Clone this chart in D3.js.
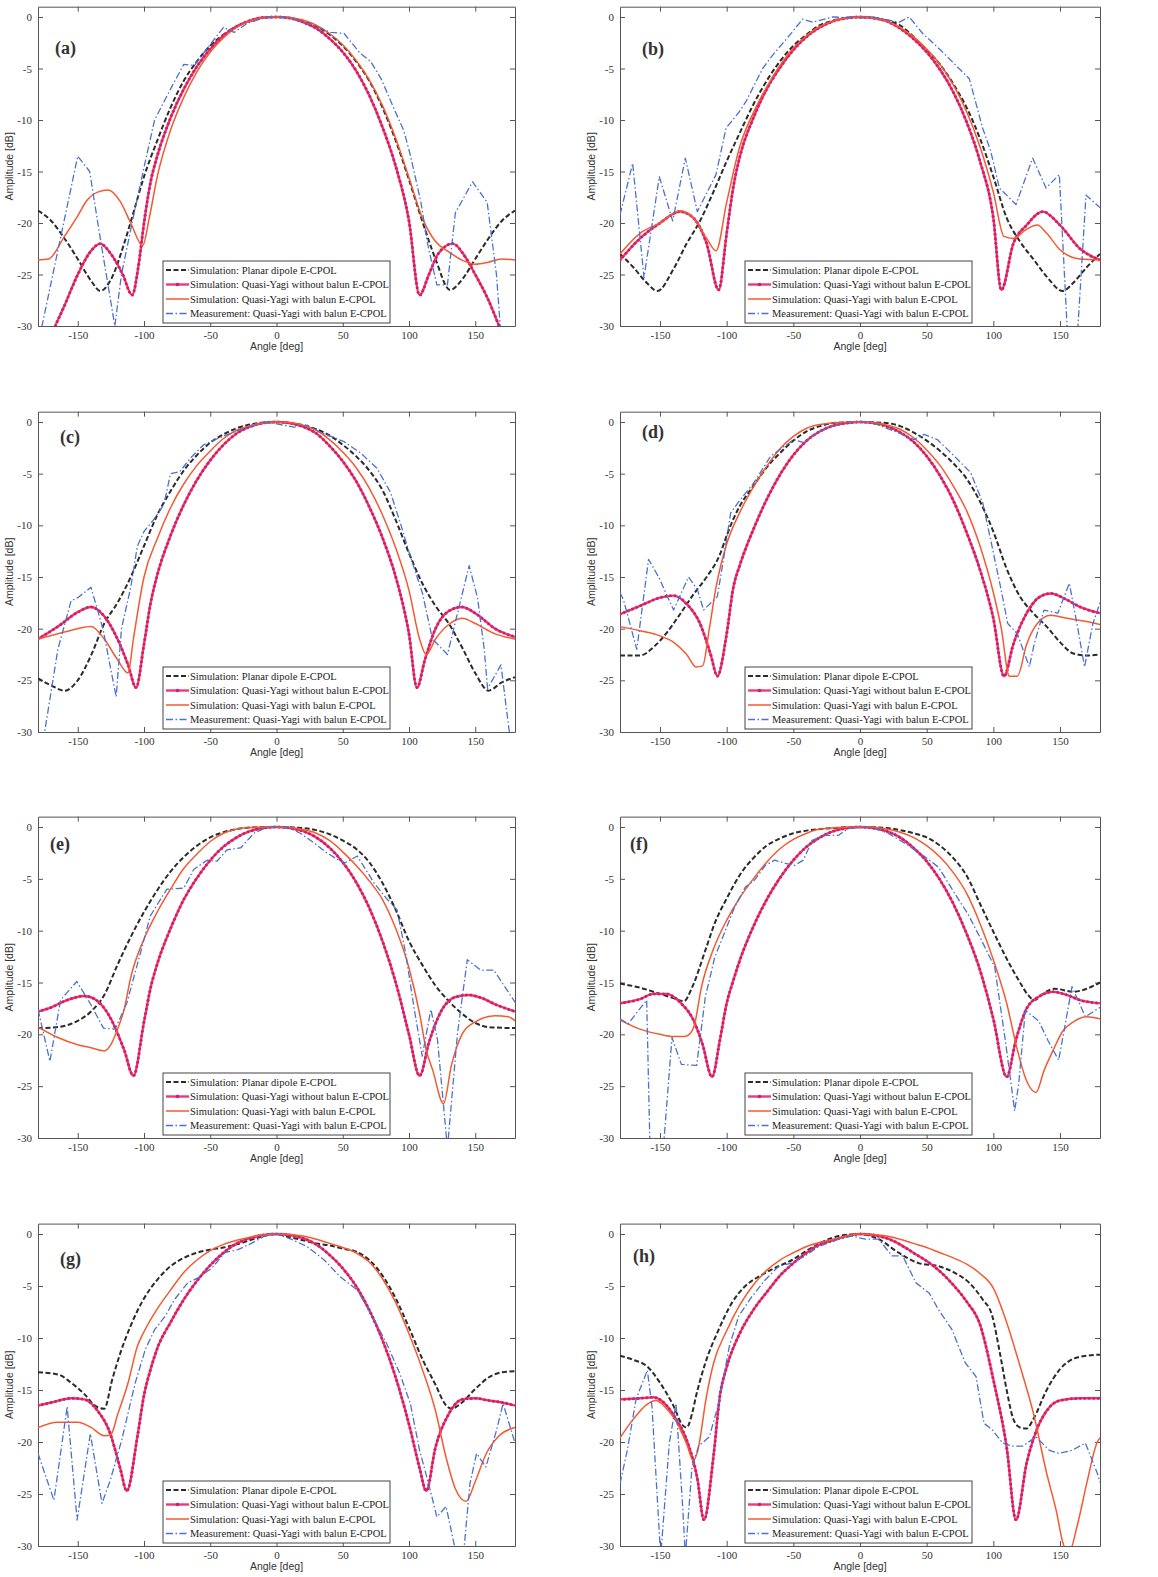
<!DOCTYPE html>
<html>
<head>
<meta charset="utf-8">
<script src="https://cdn.jsdelivr.net/npm/d3@7"></script>
<style>
  body { margin: 0; background: #fff; }
  svg text { font-family: "Liberation Serif", "Times New Roman", serif; }
</style>
</head>
<body>
<div id="chart"></div>
<script>
// ---- data: [angle deg, amplitude dB] ----
var dipoleA = [[-180,-18.8],[-170,-19.8],[-160,-21.5],[-150,-23.5],[-140,-25.6],[-133,-26.6],[-125,-25.5],[-115,-22],[-108,-19],[-100,-15.5],[-90,-12],[-80,-8.8],[-70,-6.2],[-60,-4.3],[-50,-2.8],[-40,-1.7],[-30,-0.9],[-20,-0.4],[-10,-0.1],[0,0],[10,-0.1],[20,-0.4],[30,-0.9],[40,-1.7],[50,-2.8],[60,-4.3],[70,-6.2],[80,-8.8],[90,-12],[100,-15.8],[110,-19.8],[120,-23.5],[131,-26.5],[140,-25.5],[150,-23.5],[160,-21.5],[170,-19.8],[180,-18.8]];
var noBalunA = [[-180,-34],[-167,-30],[-160,-28],[-150,-25],[-140,-22.7],[-133,-22],[-125,-23],[-116,-25],[-109,-27],[-104,-24],[-100,-20],[-95,-16],[-90,-13.5],[-80,-9.8],[-70,-7],[-60,-4.8],[-50,-3.1],[-40,-1.8],[-30,-0.9],[-20,-0.35],[-10,-0.05],[0,0],[10,-0.1],[20,-0.5],[30,-1.1],[40,-2.1],[50,-3.4],[60,-5.2],[70,-7.6],[80,-10.7],[90,-14.5],[100,-19.8],[108,-27],[115,-25],[122,-23],[133,-22],[142,-23.2],[150,-25],[160,-27.5],[168,-30],[180,-34]];
var balunA = [[-180,-23.6],[-172,-23.5],[-160,-21.3],[-150,-19.3],[-143,-17.8],[-135,-17],[-127,-16.8],[-118,-17.9],[-110,-20],[-101,-22.2],[-96,-19.5],[-90,-15.5],[-80,-11],[-70,-7.8],[-60,-5.3],[-50,-3.4],[-40,-2],[-30,-1],[-20,-0.4],[-10,-0.1],[0,0],[10,-0.05],[20,-0.3],[30,-0.8],[40,-1.6],[50,-2.7],[60,-4.2],[70,-6.1],[80,-8.6],[90,-11.8],[100,-15.6],[110,-19.5],[120,-21.8],[130,-22.8],[140,-23.6],[150,-24],[160,-23.8],[170,-23.5],[180,-23.6]];
var measA = [[-180,-34],[-177,-30],[-150,-13.5],[-141,-15],[-133,-21.5],[-122,-30],[-117,-25],[-109,-20],[-100,-14.6],[-92,-10],[-80,-7],[-70,-4.6],[-62,-4.7],[-52,-3],[-40,-1],[-32,-1.5],[-22,-0.6],[-7,0],[8,0],[28,-0.8],[41,-1.5],[51,-1.6],[63,-3.5],[71,-4.3],[79,-6],[89,-9],[96,-11],[101,-13.4],[109,-18],[114,-22],[121,-26],[129,-26],[135,-19],[148,-16],[159,-18],[166,-25],[170,-32]];

var dipoleB = [[-180,-23],[-170,-24.3],[-160,-25.8],[-152,-26.6],[-140,-24.5],[-130,-22],[-120,-19.8],[-110,-17],[-100,-14],[-90,-11.2],[-80,-8.5],[-70,-6.2],[-60,-4.3],[-50,-2.8],[-40,-1.7],[-30,-0.8],[-20,-0.35],[-10,-0.1],[0,0],[10,-0.1],[20,-0.35],[30,-0.8],[40,-1.9],[50,-3.2],[60,-4.6],[70,-6.5],[80,-8.8],[90,-11.8],[100,-15.5],[110,-19.5],[120,-21.8],[130,-23.5],[140,-25.2],[152,-26.6],[160,-25.8],[170,-24.3],[180,-23]];
var noBalunB = [[-180,-23.6],[-165,-21.5],[-150,-20],[-135,-18.9],[-125,-19.5],[-115,-22],[-106,-26.5],[-100,-21],[-95,-16.5],[-90,-13.5],[-80,-9.8],[-70,-7],[-60,-4.9],[-50,-3.2],[-40,-1.9],[-30,-1],[-20,-0.4],[-10,-0.1],[0,0],[10,-0.1],[20,-0.4],[30,-1.1],[40,-2.1],[50,-3.4],[60,-5.1],[70,-7.3],[80,-10.2],[90,-14],[100,-19.5],[106,-26.5],[115,-22],[125,-20.2],[137,-18.9],[150,-20.2],[165,-22.5],[180,-23.6]];
var balunB = [[-180,-23],[-165,-21],[-150,-20],[-135,-18.8],[-125,-19.5],[-115,-21.5],[-108,-22.7],[-100,-18],[-90,-12.5],[-80,-9.3],[-70,-6.8],[-60,-4.7],[-50,-3],[-40,-1.8],[-30,-0.9],[-20,-0.4],[-10,-0.1],[0,0],[10,-0.1],[20,-0.4],[30,-1],[40,-1.9],[50,-3.1],[60,-4.6],[70,-6.6],[80,-9.2],[90,-12.6],[100,-17],[108,-21.3],[115,-21.5],[125,-20.6],[133,-20.2],[140,-21],[150,-22.6],[165,-23.5],[180,-23.6]];
var measB = [[-180,-19.2],[-170.5,-14.2],[-162,-25.3],[-150.5,-15.5],[-140.5,-19.8],[-131,-13.7],[-122,-18.9],[-108,-15.3],[-100.5,-10.8],[-90.5,-9.2],[-85.5,-8.2],[-73,-5],[-65.5,-3.7],[-53,-1.8],[-43,-0.2],[-35.5,-0.5],[-20.5,0],[0,-0.1],[9.5,0],[29.5,-0.5],[37,0],[47,-1.6],[59.5,-3.1],[72,-4.7],[82,-6],[92,-10.8],[98,-13],[104.5,-16.6],[117,-18.2],[129.5,-13.7],[139.5,-16.6],[149.5,-15.3],[155.7,-31],[163,-31],[169.5,-17.3],[180,-18.5]];

var dipoleC = [[-180,-24.8],[-170,-25.5],[-160,-26],[-150,-25],[-140,-22.6],[-130,-19.5],[-120,-17.5],[-110,-15],[-100,-12],[-90,-9],[-80,-6.7],[-70,-4.7],[-60,-3.2],[-50,-2],[-40,-1.2],[-30,-0.6],[-20,-0.25],[-10,-0.05],[0,0],[10,-0.1],[20,-0.3],[30,-0.7],[40,-1.3],[50,-2.2],[60,-3.3],[70,-4.7],[80,-6.6],[90,-9.5],[100,-12.7],[110,-15.6],[120,-17.8],[130,-19.5],[140,-21.8],[150,-24.3],[160,-26],[170,-25.2],[180,-24.7]];
var noBalunC = [[-180,-21],[-165,-19.8],[-150,-18.4],[-140,-17.9],[-130,-18.8],[-120,-21],[-112,-23.5],[-106,-25.7],[-100,-21.5],[-95,-17.5],[-90,-14.8],[-80,-11],[-70,-8],[-60,-5.6],[-50,-3.7],[-40,-2.2],[-30,-1.1],[-20,-0.45],[-10,-0.1],[0,0],[10,-0.1],[20,-0.45],[30,-1.1],[40,-2.3],[50,-3.8],[60,-5.7],[70,-8.2],[80,-11.2],[90,-15],[100,-20.5],[106,-25.7],[112,-23],[120,-20],[130,-18.3],[140,-17.9],[150,-18.5],[165,-20],[180,-20.8]];
var balunC = [[-180,-21],[-165,-20.5],[-150,-20],[-140,-19.8],[-130,-21],[-120,-23],[-112,-24.3],[-108,-21],[-100,-15],[-90,-11.3],[-80,-8.3],[-70,-6],[-60,-4.2],[-50,-2.8],[-40,-1.6],[-30,-0.8],[-20,-0.35],[-10,-0.1],[0,0],[10,-0.05],[20,-0.3],[30,-0.8],[40,-1.7],[50,-2.9],[60,-4.4],[70,-6.4],[80,-9],[90,-12.2],[100,-16.3],[108,-21],[113,-22.5],[120,-21],[130,-19.6],[140,-19],[150,-19.5],[165,-20.5],[180,-21]];
var measC = [[-180,-36],[-175,-30],[-165,-22],[-155,-17.3],[-150,-17],[-140,-16],[-131,-20],[-121,-26.6],[-117,-20],[-110,-16],[-105,-12],[-100,-10.6],[-93,-9.5],[-85,-8],[-80,-5],[-73,-4.8],[-65,-3.5],[-55,-2.2],[-37,-1.2],[-22,-0.5],[-7,0],[13,-0.5],[23,-0.3],[33,-1],[51,-1.9],[63.5,-3],[76,-4.5],[86,-6.8],[94,-10],[101,-13],[110,-16.5],[117.7,-21],[129,-22.5],[145.4,-13.9],[151.7,-17],[156.8,-22],[159.3,-25.8],[169.4,-23.5],[175.7,-30],[180,-34]];

var dipoleD = [[-180,-22.6],[-165,-22.6],[-155,-21.8],[-145,-20.4],[-135,-18.6],[-125,-16.7],[-115,-15],[-105,-12.8],[-100,-11],[-95,-9.4],[-90,-8.1],[-80,-6.2],[-70,-4.4],[-60,-3],[-50,-1.8],[-40,-0.9],[-30,-0.4],[-20,-0.1],[0,0],[20,-0.1],[30,-0.4],[40,-1],[50,-1.8],[60,-2.8],[70,-4],[80,-5.5],[90,-7.7],[100,-10.6],[110,-14.2],[120,-16.9],[130,-18.5],[140,-19.8],[150,-21.3],[160,-22.4],[170,-22.6],[180,-22.5]];
var noBalunD = [[-180,-18.6],[-165,-17.8],[-150,-17],[-140,-16.8],[-130,-17.6],[-120,-19.5],[-112,-22.5],[-107,-24.6],[-100,-20.5],[-95,-16],[-90,-13.8],[-80,-10.4],[-70,-7.5],[-60,-5.1],[-50,-3.2],[-40,-1.8],[-30,-0.9],[-20,-0.35],[-10,-0.1],[0,0],[10,-0.1],[20,-0.4],[30,-1],[40,-1.9],[50,-3.3],[60,-5.2],[70,-7.6],[80,-10.7],[90,-14.3],[100,-19],[108,-24.6],[115,-21.5],[125,-18.5],[135,-16.9],[143,-16.6],[155,-17.2],[165,-17.9],[180,-18.5]];
var balunD = [[-180,-19.8],[-165,-20.2],[-150,-20.7],[-140,-21.3],[-130,-22.5],[-123,-23.7],[-118,-23.6],[-113,-20],[-108,-16],[-100,-11.8],[-90,-8.7],[-80,-6.3],[-70,-4.3],[-60,-2.6],[-50,-1.4],[-40,-0.6],[-30,-0.25],[-10,-0.02],[0,0],[10,-0.05],[20,-0.3],[30,-0.7],[40,-1.5],[50,-2.7],[60,-4.2],[70,-6.2],[80,-8.6],[90,-12],[100,-16.5],[106,-20],[112,-24.6],[118,-24.6],[125,-21.5],[133,-19.5],[143,-18.7],[155,-19],[170,-19.3],[180,-19.6]];
var measD = [[-180,-16.5],[-177.4,-17.2],[-167.4,-22],[-158.6,-13.3],[-151,-15],[-139.8,-18.2],[-128.6,-15],[-122,-16.2],[-117.3,-18.2],[-107,-16.9],[-102,-13],[-97,-8.8],[-89.7,-7.5],[-79.7,-5.9],[-67,-3.3],[-49.6,-1.7],[-42,-2],[-32,-1],[-12,0],[8,0],[28,-1],[40.6,-1.7],[48,-1.2],[58,-1.7],[70.7,-3.3],[83,-4.9],[92,-7.8],[98,-11.4],[105.8,-16.2],[110.8,-19.5],[118,-20.5],[127,-23.7],[130.8,-21.4],[138,-18.2],[148.4,-18.5],[157,-15.6],[163.4,-20],[168.4,-23.7],[174.7,-19.5],[180,-17.5]];

var dipoleE = [[-180,-19.4],[-165,-19.3],[-150,-18.7],[-140,-17.8],[-130,-16.2],[-120,-13.3],[-110,-10.6],[-100,-8.2],[-90,-6.1],[-80,-4.3],[-70,-2.9],[-60,-1.8],[-50,-1],[-40,-0.5],[-30,-0.2],[-20,-0.05],[0,0],[20,-0.1],[30,-0.3],[40,-0.7],[50,-1.3],[60,-2.1],[70,-3.4],[80,-5.4],[90,-8],[100,-11],[110,-13.3],[120,-15.3],[130,-16.8],[140,-18],[150,-18.9],[160,-19.3],[180,-19.4]];
var noBalunE = [[-180,-17.8],[-170,-17.4],[-160,-16.8],[-145,-16.3],[-135,-16.8],[-125,-18.5],[-115,-21.5],[-108,-24],[-100,-18.8],[-95,-15.5],[-90,-13.2],[-80,-9.8],[-70,-7],[-60,-4.9],[-50,-3.2],[-40,-1.9],[-30,-1],[-20,-0.4],[-10,-0.1],[0,0],[10,-0.1],[20,-0.4],[30,-1],[40,-2],[50,-3.4],[60,-5.3],[70,-7.8],[80,-11],[90,-15],[100,-20],[108,-24],[115,-20.8],[125,-17.6],[135,-16.4],[145,-16.2],[155,-16.5],[165,-17.1],[180,-17.8]];
var balunE = [[-180,-19.3],[-165,-20.3],[-150,-21],[-140,-21.3],[-130,-21.6],[-125,-21],[-120,-19.5],[-115,-17.6],[-110,-14.5],[-100,-10.8],[-90,-8.2],[-80,-6],[-70,-4],[-60,-2.6],[-50,-1.4],[-40,-0.6],[-30,-0.2],[-20,-0.05],[0,0],[10,-0.05],[20,-0.25],[30,-0.6],[40,-1.3],[50,-2.4],[60,-3.7],[70,-5.2],[80,-7],[90,-9.8],[100,-13.6],[108,-18],[113,-21.5],[118,-23.5],[126,-26.7],[132,-23],[140,-20],[150,-18.8],[165,-18.2],[175,-18.3],[180,-18.7]];
var measE = [[-180,-17.6],[-171,-22.6],[-163,-16.7],[-150.7,-14.9],[-140.7,-17],[-130.6,-19.4],[-121.8,-19.5],[-113,-17],[-102.8,-12.2],[-95.3,-8.6],[-87.7,-7],[-82.7,-6],[-70,-5.9],[-62.5,-4.1],[-52.4,-3.2],[-45,-3.3],[-37.3,-2.2],[-27,-2],[-17,-0.6],[-7,0],[8,0],[18,-0.6],[28,-1.5],[38,-2.5],[51,-3.5],[61,-2.8],[73.6,-5.4],[83.7,-7],[91,-8],[97.5,-12.2],[104,-17.6],[110,-22.1],[116.5,-17.6],[121.5,-20.5],[129,-31],[136.6,-19.9],[144,-12.8],[154,-13.8],[164,-13.8],[180,-16.9]];

var dipoleF = [[-180,-15.1],[-165,-15.5],[-150,-16.1],[-140,-16.5],[-132,-16.8],[-126,-15.5],[-116,-11.9],[-109,-9.3],[-100,-6.9],[-90,-4.6],[-80,-3],[-70,-1.8],[-60,-1.1],[-50,-0.6],[-40,-0.35],[-20,-0.1],[0,0],[20,-0.1],[30,-0.3],[40,-0.6],[50,-1],[60,-1.8],[70,-3],[80,-4.7],[90,-7.4],[100,-10.1],[110,-12.7],[120,-15],[126,-16.2],[131,-16.7],[136,-16.2],[146,-15.6],[160,-15.9],[170,-15.6],[180,-15]];
var noBalunF = [[-180,-17],[-165,-16.6],[-155,-16.1],[-145,-16.1],[-135,-16.9],[-125,-18.6],[-118,-21],[-111,-24.1],[-105,-20.5],[-100,-17],[-95,-14.8],[-90,-12.8],[-80,-9.6],[-70,-7],[-60,-4.9],[-50,-3.2],[-40,-1.9],[-30,-1],[-20,-0.4],[-10,-0.1],[0,0],[10,-0.1],[20,-0.4],[30,-1],[40,-2],[50,-3.3],[60,-5.1],[70,-7.4],[80,-10.3],[90,-13.8],[100,-18.5],[110,-24.1],[117,-20.5],[125,-17.5],[135,-16.3],[145,-15.9],[155,-16.2],[165,-16.7],[180,-17]];
var balunF = [[-180,-18.6],[-165,-19.5],[-150,-20],[-140,-20.2],[-132,-20.2],[-128,-20],[-124,-19],[-119,-15.5],[-110,-11.8],[-100,-9],[-90,-6.8],[-80,-5],[-70,-3.4],[-60,-2.1],[-50,-1.2],[-40,-0.6],[-30,-0.2],[-10,-0.02],[0,0],[10,-0.02],[20,-0.2],[30,-0.5],[40,-1],[50,-1.8],[60,-2.9],[70,-4.4],[80,-6.4],[90,-9.3],[100,-12.8],[110,-17],[118,-21.5],[125,-24.5],[132,-25.6],[138,-23.5],[145,-21.5],[152,-19.7],[160,-18.8],[170,-18.3],[180,-18.5]];
var measF = [[-180,-18.5],[-174,-19],[-160,-16.7],[-157.5,-31],[-147.5,-31],[-141,-20.3],[-134,-22.9],[-122.5,-23],[-116,-16.4],[-109,-12.6],[-101,-10],[-94,-7.7],[-86,-5.8],[-79,-5.1],[-71,-3.7],[-64,-3.2],[-56,-3.5],[-49,-3.7],[-42.5,-3.2],[-36,-1.3],[-26,-0.8],[-16,-0.8],[-9,-0.15],[9,0],[21,-0.6],[34,-1.6],[49,-2.9],[59,-3.9],[71,-6.4],[81,-8.4],[91,-10.9],[101,-13.5],[109,-20.6],[116,-27.4],[119,-24.8],[124,-17.7],[134,-18.7],[141,-20.6],[149,-22.5],[159,-15.4],[169,-18.3],[180,-17.4]];

var dipoleG = [[-180,-13.3],[-165,-13.5],[-155,-14.3],[-145,-15.4],[-137,-16.5],[-130,-16.8],[-124,-14],[-118,-11.5],[-110,-8.8],[-100,-6.2],[-90,-4.4],[-80,-3.1],[-70,-2.3],[-60,-1.8],[-50,-1.5],[-40,-1.3],[-30,-1],[-20,-0.6],[-10,-0.2],[0,0],[10,-0.3],[20,-0.6],[30,-0.9],[40,-1.1],[50,-1.4],[60,-1.7],[70,-2.5],[80,-4],[90,-6.2],[100,-9],[110,-12],[120,-14.5],[127,-16.3],[132,-16.8],[140,-16.2],[150,-14.9],[160,-13.8],[170,-13.3],[180,-13.2]];
var noBalunG = [[-180,-16.5],[-170,-16.2],[-155,-15.8],[-145,-15.9],[-135,-17],[-126,-19],[-118,-22.5],[-113,-24.7],[-105,-19.5],[-100,-15.5],[-95,-13],[-90,-11],[-80,-8.5],[-70,-6.3],[-60,-4.5],[-50,-3],[-40,-1.8],[-30,-0.9],[-20,-0.4],[-10,-0.1],[0,0],[10,-0.1],[20,-0.4],[30,-1],[40,-2],[50,-3.3],[60,-5],[70,-7.3],[80,-10.2],[90,-13.8],[100,-18.3],[108,-22.5],[113,-24.7],[120,-20.5],[130,-17.3],[140,-15.9],[150,-15.8],[160,-16],[170,-16.2],[180,-16.5]];
var balunG = [[-180,-18.6],[-165,-18.1],[-150,-18.1],[-140,-18.6],[-130,-19.4],[-125,-19.3],[-120,-17.4],[-112,-14.3],[-105,-10.8],[-100,-9.4],[-90,-7.2],[-80,-5.4],[-70,-3.7],[-60,-2.5],[-50,-1.6],[-40,-1],[-30,-0.6],[-20,-0.3],[-10,-0.1],[0,0],[10,-0.05],[20,-0.2],[30,-0.5],[40,-0.9],[50,-1.3],[60,-1.8],[70,-2.7],[80,-4.3],[90,-6.6],[100,-9.6],[110,-13],[120,-17],[128,-21.5],[135,-24.5],[143,-25.7],[150,-23.8],[158,-21.2],[168,-19.4],[180,-18.6]];
var measG = [[-180,-21.1],[-168,-25.6],[-158,-16.6],[-150.5,-27.5],[-140.5,-19.2],[-131.7,-25.9],[-125.5,-23.7],[-116.8,-19.8],[-106.8,-14.4],[-99,-11.1],[-92,-9.2],[-84,-7.9],[-77,-6.3],[-67,-4.7],[-59,-4.2],[-49,-3.3],[-39,-1.8],[-29,-1.5],[-19,-0.9],[-9,-0.2],[0,0],[11,-0.5],[23,-1.2],[36,-2.5],[48,-4.1],[61,-5.4],[71,-7.6],[83,-10.5],[93,-13.4],[101,-16.3],[108,-20.8],[116,-24.6],[121,-27.2],[128,-26.2],[136,-31],[141,-31],[146,-24],[151,-21.1],[158,-22.4],[166,-18.9],[171,-16.3],[180,-20.1]];

var dipoleH = [[-180,-11.7],[-170,-12.1],[-160,-12.7],[-150,-14.3],[-140,-16.5],[-133,-18.4],[-130,-18.6],[-126,-17.3],[-123,-15.6],[-116,-12.4],[-106,-9.2],[-96,-6.6],[-86,-5],[-76,-4.1],[-66,-3.4],[-51,-2.5],[-36,-1.3],[-16,-0.2],[0,0],[14,-0.5],[29,-1.8],[44,-2.8],[59,-3.1],[72,-3.8],[82,-4.7],[92,-6.3],[99,-7.8],[105,-11.5],[110,-15],[115,-17.8],[120,-18.6],[125,-18.7],[130,-17.8],[140,-15],[150,-13],[160,-12],[170,-11.7],[180,-11.6]];
var noBalunH = [[-180,-15.9],[-165,-15.8],[-155,-15.7],[-145,-16.5],[-138,-17.8],[-130,-19.8],[-122,-23.5],[-117,-27.5],[-110,-21.5],[-105,-15.5],[-100,-12.8],[-90,-9.5],[-80,-7.3],[-70,-5.6],[-60,-4],[-50,-2.8],[-40,-1.8],[-30,-1],[-20,-0.6],[-10,-0.2],[0,0],[10,-0.1],[20,-0.4],[30,-1],[40,-1.8],[50,-2.6],[60,-3.6],[70,-4.9],[80,-6.5],[90,-8.7],[100,-14],[110,-20.5],[117,-27.5],[125,-22],[132,-19],[140,-17],[150,-16],[165,-15.8],[180,-15.8]];
var balunH = [[-180,-19.6],[-170,-17.8],[-160,-16.4],[-153,-16],[-145,-16.8],[-138,-18],[-130,-20.2],[-125,-21.8],[-122,-21],[-115,-15.5],[-110,-12.5],[-100,-9.3],[-90,-6.8],[-80,-4.9],[-70,-3.5],[-60,-2.5],[-50,-1.8],[-40,-1.2],[-30,-0.8],[-20,-0.5],[-10,-0.2],[0,0],[10,-0.05],[20,-0.2],[30,-0.5],[40,-0.9],[50,-1.3],[60,-1.8],[70,-2.3],[80,-2.9],[90,-3.8],[100,-5.2],[110,-8.5],[120,-12.7],[130,-17.2],[140,-23],[147,-26.5],[153,-30],[157,-30.5],[163,-28],[170,-24],[178,-20],[180,-19.6]];
var measH = [[-180,-24],[-174.5,-20.8],[-168,-15.9],[-159.5,-13.1],[-156,-16.6],[-149.5,-31],[-143,-20.1],[-138,-16.3],[-133,-26.2],[-131,-31],[-126,-22.4],[-121,-20.4],[-113,-19.5],[-106,-16.3],[-98,-10.8],[-91,-7.9],[-81,-6],[-71,-4.4],[-61,-3.1],[-51,-2.8],[-41,-2.1],[-31,-1.2],[-16,-0.5],[-6,-0.2],[4,-0.5],[14,-0.5],[24,-2.1],[32,-2.1],[42,-4.7],[52,-5.7],[59,-7.3],[69,-9.2],[79,-12.4],[87,-13.7],[93,-18.2],[99,-18.8],[107,-20.1],[114,-20.4],[122,-20.4],[132,-19.5],[142,-20.8],[149,-21.1],[159,-20.8],[169,-20.1],[178,-23],[180,-23.9]];

var panelNames = ["(a)", "(b)", "(c)", "(d)", "(e)", "(f)", "(g)", "(h)"];
var dipoleSeries = [dipoleA, dipoleB, dipoleC, dipoleD, dipoleE, dipoleF, dipoleG, dipoleH];
var noBalunSeries = [noBalunA, noBalunB, noBalunC, noBalunD, noBalunE, noBalunF, noBalunG, noBalunH];
var balunSeries = [balunA, balunB, balunC, balunD, balunE, balunF, balunG, balunH];
var measSeries = [measA, measB, measC, measD, measE, measF, measG, measH];
var legendNames = [
    "Simulation: Planar dipole E-CPOL",
    "Simulation: Quasi-Yagi without balun E-CPOL",
    "Simulation: Quasi-Yagi with balun E-CPOL",
    "Measurement: Quasi-Yagi with balun E-CPOL"
];
var xTicks = [-150, -100, -50, 0, 50, 100, 150];
var yTicks = [0, -5, -10, -15, -20, -25, -30];

function init() {
    var svg = d3.select("#chart").append("svg")
        .attr("width", 1158)
        .attr("height", 1577);

    // plot area pixel positions (left/right of x axis, 0 dB / -30 dB of y axis)
    var colX = [[38, 515], [620, 1100]];
    var rowY = [[17, 326], [422, 732], [827, 1138], [1234, 1546]];
    // where the "(a)" etc. labels sit, relative to plot corner at 0 dB
    var labelOff = [[17, 37], [22, 38], [22, 21], [22, 16], [12, 23], [10, 23], [22, 31], [13, 28]];

    // plain hyphen for negative ticks, as in the figure
    var fmt = function(d) { return String(d); };

    var styles = [
        { color: "#2b2b2b", width: 2, dash: "5,2.5", curve: d3.curveMonotoneX },
        { color: "#ee3a76", width: 2.4, dash: null, curve: d3.curveMonotoneX, markers: true },
        { color: "#f45a32", width: 1.5, dash: null, curve: d3.curveMonotoneX },
        { color: "#4c72cf", width: 1.3, dash: "7,2.5,1.5,2.5", curve: d3.curveLinear }
    ];

    panelNames.forEach(function(name, i) {
        var col = i % 2, row = Math.floor(i / 2);
        var x0 = colX[col][0], x1 = colX[col][1];
        var y0 = rowY[row][0], y30 = rowY[row][1];
        var yTop = y0 - (y30 - y0) / 30;

        var x = d3.scaleLinear().domain([-180, 180]).range([x0, x1]);
        var y = d3.scaleLinear().domain([-30, 1]).range([y30, yTop]);

        var g = svg.append("g");

        g.append("clipPath").attr("id", "clip" + i)
            .append("rect")
            .attr("x", x0).attr("y", yTop)
            .attr("width", x1 - x0).attr("height", y30 - yTop);

        // axes with inside ticks on all four sides
        var axB = g.append("g").attr("transform", "translate(0," + y30 + ")")
            .call(d3.axisBottom(x).tickValues(xTicks).tickFormat(fmt).tickSize(-5).tickSizeOuter(0).tickPadding(5));
        var axT = g.append("g").attr("transform", "translate(0," + yTop + ")")
            .call(d3.axisTop(x).tickValues(xTicks).tickSize(-5).tickSizeOuter(0).tickFormat(""));
        var axL = g.append("g").attr("transform", "translate(" + x0 + ",0)")
            .call(d3.axisLeft(y).tickValues(yTicks).tickFormat(fmt).tickSize(-5).tickSizeOuter(0).tickPadding(6));
        var axR = g.append("g").attr("transform", "translate(" + x1 + ",0)")
            .call(d3.axisRight(y).tickValues(yTicks).tickSize(-5).tickSizeOuter(0).tickFormat(""));

        [axB, axT, axL, axR].forEach(function(ax) {
            ax.select(".domain").attr("stroke", "#555").attr("stroke-width", 1);
            ax.selectAll(".tick line").attr("stroke", "#555");
            ax.selectAll("text")
                .style("font-family", "'Liberation Serif', serif")
                .style("font-size", "11px")
                .attr("fill", "#333");
        });

        // series
        var plot = g.append("g").attr("clip-path", "url(#clip" + i + ")");
        var allData = [dipoleSeries[i], noBalunSeries[i], balunSeries[i], measSeries[i]];

        allData.forEach(function(data, k) {
            var st = styles[k];
            var line = d3.line()
                .x(function(d) { return x(d[0]); })
                .y(function(d) { return y(d[1]); })
                .curve(st.curve);
            var p = plot.append("path")
                .datum(data)
                .attr("d", line)
                .attr("fill", "none")
                .attr("stroke", st.color)
                .attr("stroke-width", st.width)
                .attr("stroke-linejoin", "round")
                .attr("stroke-dasharray", st.dash);

            if (st.markers) {
                // small point markers along the simulated curve
                var node = p.node();
                var len = node.getTotalLength();
                for (var l = 0; l < len; l += 4.5) {
                    var pt = node.getPointAtLength(l);
                    plot.append("circle")
                        .attr("cx", pt.x).attr("cy", pt.y)
                        .attr("r", 1.5)
                        .attr("fill", "#d21f63");
                }
            }
        });

        // panel label
        g.append("text")
            .attr("x", x0 + labelOff[i][0])
            .attr("y", y0 + labelOff[i][1])
            .style("font-size", "18px")
            .style("font-weight", "bold")
            .attr("fill", "#333")
            .text(name);

        // axis titles
        g.append("text")
            .attr("x", (x0 + x1) / 2)
            .attr("y", y30 + 24)
            .attr("text-anchor", "middle")
            .style("font-family", "'Liberation Sans', Arial, sans-serif")
            .style("font-size", "10.5px")
            .attr("fill", "#333")
            .text("Angle [deg]");

        g.append("text")
            .attr("transform", "translate(" + (x0 - 25) + "," + ((yTop + y30) / 2) + ") rotate(-90)")
            .attr("text-anchor", "middle")
            .style("font-family", "'Liberation Sans', Arial, sans-serif")
            .style("font-size", "10.5px")
            .attr("fill", "#333")
            .text("Amplitude [dB]");

        // legend
        var lw = 227, lh = 62;
        var lx = x0 + 125, ly = y30 - 3 - lh;
        var leg = g.append("g");
        leg.append("rect")
            .attr("x", lx).attr("y", ly)
            .attr("width", lw).attr("height", lh)
            .attr("fill", "#fff")
            .attr("stroke", "#444")
            .attr("stroke-width", 1);

        legendNames.forEach(function(txt, k) {
            var st = styles[k];
            var yy = ly + 9 + k * 14.5;
            leg.append("line")
                .attr("x1", lx + 3).attr("x2", lx + 26)
                .attr("y1", yy).attr("y2", yy)
                .attr("stroke", st.color)
                .attr("stroke-width", st.width)
                .attr("stroke-dasharray", st.dash);
            if (st.markers) {
                leg.append("circle")
                    .attr("cx", lx + 14.5).attr("cy", yy)
                    .attr("r", 1.8).attr("fill", "#d21f63");
            }
            leg.append("text")
                .attr("x", lx + 27)
                .attr("y", yy + 3.5)
                .style("font-size", "10.5px")
                .attr("fill", "#222")
                .text(txt);
        });
    });
}

window.onload = init;
</script>
</body>
</html>
